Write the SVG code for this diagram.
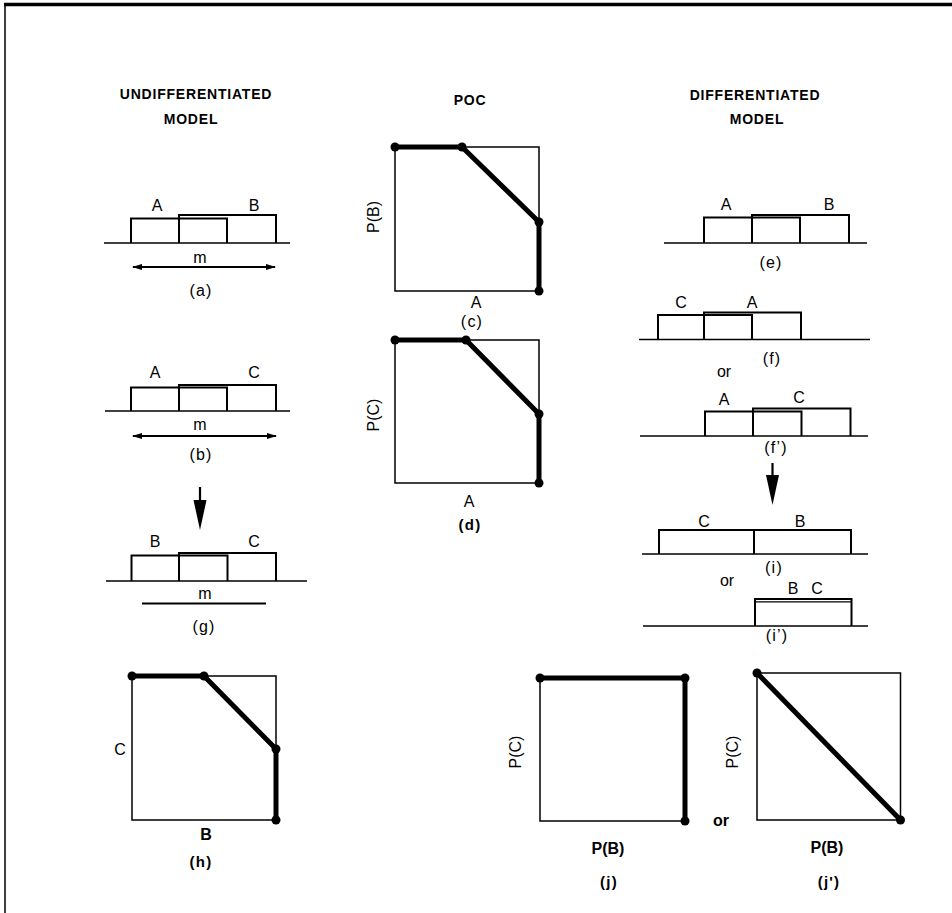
<svg xmlns="http://www.w3.org/2000/svg" width="952" height="913" viewBox="0 0 952 913">
<style>
text{font-family:"Liberation Sans",Arial,sans-serif;fill:#000;text-anchor:middle;dominant-baseline:central}
.t{font-size:14px;font-weight:bold;letter-spacing:0.8px}
.l{font-size:16px}
.p{font-size:16px;letter-spacing:1.2px}
.pb{font-size:15px;font-weight:bold;letter-spacing:1.2px}
.blk{fill:none;stroke:#000;stroke-width:2}
.base{fill:none;stroke:#000;stroke-width:1.6}
.box{fill:none;stroke:#000;stroke-width:1.5}
.thick{fill:none;stroke:#000;stroke-width:5;stroke-linejoin:round}
.dot{fill:#000}
.arr{stroke:#000;stroke-width:2;fill:none}
</style>
<defs>
<marker id="ah" viewBox="0 0 10 6" refX="9" refY="3" markerWidth="10" markerHeight="6" markerUnits="userSpaceOnUse" orient="auto-start-reverse">
<path d="M0,0 L10,3 L0,6 Z" fill="#000"/>
</marker>
</defs>
<g id="frame">
<line x1="4" y1="4.5" x2="952" y2="4.5" stroke="#000" stroke-width="3.5"/>
<line x1="5" y1="3" x2="5" y2="913" stroke="#000" stroke-width="1.5"/>
</g>
<g id="titles">
<text class="t" x="196" y="94">UNDIFFERENTIATED</text>
<text class="t" x="191" y="119">MODEL</text>
<text class="t" x="470" y="100">POC</text>
<text class="t" x="755" y="95">DIFFERENTIATED</text>
<text class="t" x="757" y="119">MODEL</text>
</g>
<g id="a">
<path class="base" d="M104,243 H290"/>
<path class="blk" d="M131,243 V218.5 H227 V243"/>
<path class="blk" d="M179,243 V215 H276 V243"/>
<text class="l" x="157" y="205">A</text>
<text class="l" x="254" y="205">B</text>
<text class="l" x="200" y="257">m</text>
<text class="p" x="201" y="290">(a)</text>
</g>
<g id="b">
<path class="base" d="M105,411 H290"/>
<path class="blk" d="M131,411 V387.5 H227 V411"/>
<path class="blk" d="M179,411 V385 H276 V411"/>
<text class="l" x="155" y="372">A</text>
<text class="l" x="254" y="372">C</text>
<text class="l" x="200" y="424">m</text>
<text class="p" x="201" y="454">(b)</text>
</g>
<g id="g">
<path class="base" d="M106,581 H307"/>
<path class="blk" d="M131.5,581 V555.5 H227.5 V581"/>
<path class="blk" d="M179,581 V553 H276 V581"/>
<text class="l" x="155" y="541">B</text>
<text class="l" x="254" y="541">C</text>
<text class="l" x="205" y="593">m</text>
<text class="p" x="204" y="626">(g)</text>
</g>
<g id="h">
<path class="box" d="M204,676 H276 V749 M276,820 H132 V676"/>
<path class="thick" d="M132,676 H204 L276,749 V820"/>
<circle class="dot" cx="132" cy="676" r="4.5"/>
<circle class="dot" cx="204" cy="676" r="4.5"/>
<circle class="dot" cx="276" cy="749" r="4.5"/>
<circle class="dot" cx="276" cy="820" r="4.5"/>
<text class="l" x="120" y="749">C</text>
<text class="l" x="206" y="834" font-weight="bold">B</text>
<text class="pb" x="201" y="861">(h)</text>
</g>
<g id="c">
<path class="box" d="M462,147 H539 V222 M539,291 H395 V147"/>
<path class="thick" d="M395,147 H462 L539,222 V291"/>
<circle class="dot" cx="395" cy="147" r="4.5"/>
<circle class="dot" cx="462" cy="147" r="4.5"/>
<circle class="dot" cx="539" cy="222" r="4.5"/>
<circle class="dot" cx="539" cy="291" r="4.5"/>
<text class="l" x="373" y="217" transform="rotate(-90 373 217)">P(B)</text>
<text class="l" x="476" y="302">A</text>
<text class="p" x="472" y="321">(c)</text>
</g>
<g id="d">
<path class="box" d="M466,340 H539 V414 M539,483 H395 V340"/>
<path class="thick" d="M395,340 H466 L539,414 V483"/>
<circle class="dot" cx="395" cy="340" r="4.5"/>
<circle class="dot" cx="466" cy="340" r="4.5"/>
<circle class="dot" cx="539" cy="414" r="4.5"/>
<circle class="dot" cx="539" cy="483" r="4.5"/>
<text class="l" x="373" y="415" transform="rotate(-90 373 415)">P(C)</text>
<text class="l" x="469" y="501">A</text>
<text class="pb" x="470" y="524" font-size="13">(d)</text>
</g>
<g id="e">
<path class="base" d="M664,243 H867"/>
<path class="blk" d="M704,243 V217.5 H800 V243"/>
<path class="blk" d="M752,243 V215 H849 V243"/>
<text class="l" x="726" y="204">A</text>
<text class="l" x="829" y="204">B</text>
<text class="p" x="771" y="262">(e)</text>
</g>
<g id="f">
<path class="base" d="M639,339.5 H870"/>
<path class="blk" d="M658,339.5 V315 H752 V339.5"/>
<path class="blk" d="M704,339.5 V312.5 H801 V339.5"/>
<text class="l" x="681" y="302">C</text>
<text class="l" x="752" y="302">A</text>
<text class="p" x="772" y="358">(f)</text>
<text class="l" x="724" y="371">or</text>
</g>
<g id="f2">
<path class="base" d="M640,436 H868"/>
<path class="blk" d="M705,436 V411.5 H801.5 V436"/>
<path class="blk" d="M753,436 V408.5 H850.5 V436"/>
<text class="l" x="724" y="399">A</text>
<text class="l" x="799" y="397">C</text>
<text class="p" x="776" y="447">(f’)</text>
</g>
<g id="i">
<path class="base" d="M642,554 H868"/>
<path class="blk" d="M659,554 V530 H851 V554 M754,530 V554"/>
<text class="l" x="704" y="521">C</text>
<text class="l" x="800" y="521">B</text>
<text class="p" x="774" y="567">(i)</text>
<text class="l" x="727" y="580">or</text>
</g>
<g id="i2">
<path class="base" d="M643,626 H868"/>
<path class="blk" d="M755,626 V599 H851.5 V626"/>
<path d="M755,601.8 H851.5" stroke="#000" stroke-width="1.2" fill="none"/>
<text class="l" x="793" y="588">B</text>
<text class="l" x="817" y="588">C</text>
<text class="p" x="777" y="635">(i’)</text>
</g>
<g id="j">
<path class="box" d="M685,821 H540 V678"/>
<path class="thick" d="M540,678 H685 V821"/>
<circle class="dot" cx="540" cy="678" r="4.5"/>
<circle class="dot" cx="685" cy="678" r="4.5"/>
<circle class="dot" cx="685" cy="821" r="4.5"/>
<text class="l" x="515" y="752" transform="rotate(-90 515 752)">P(C)</text>
<text class="l" x="608" y="848" font-weight="bold">P(B)</text>
<text class="pb" x="609" y="881">(j)</text>
<text class="l" x="721" y="820" font-weight="bold">or</text>
</g>
<g id="j2">
<path class="box" d="M757,673 H900.5 V820 H757 Z"/>
<path class="thick" d="M757,673 L900.5,820"/>
<circle class="dot" cx="757" cy="673" r="4.5"/>
<circle class="dot" cx="900.5" cy="820" r="4.5"/>
<text class="l" x="732" y="752" transform="rotate(-90 732 752)">P(C)</text>
<text class="l" x="827" y="847" font-weight="bold">P(B)</text>
<text class="pb" x="829" y="881">(j')</text>
</g>
<g id="connectors">
<line class="arr" x1="133" y1="267" x2="275" y2="267" marker-start="url(#ah)" marker-end="url(#ah)"/>
<line class="arr" x1="133" y1="436" x2="276" y2="436" marker-start="url(#ah)" marker-end="url(#ah)"/>
<line x1="142" y1="603.5" x2="266" y2="603.5" stroke="#000" stroke-width="2"/>
<path d="M200,487 V502" stroke="#000" stroke-width="2.2"/>
<path d="M193.5,500 L206.5,500 L200,530 Z" fill="#000"/>
<path d="M772.5,463 V477" stroke="#000" stroke-width="2.2"/>
<path d="M766,475 L779,475 L772.5,505 Z" fill="#000"/>
</g>
</svg>
